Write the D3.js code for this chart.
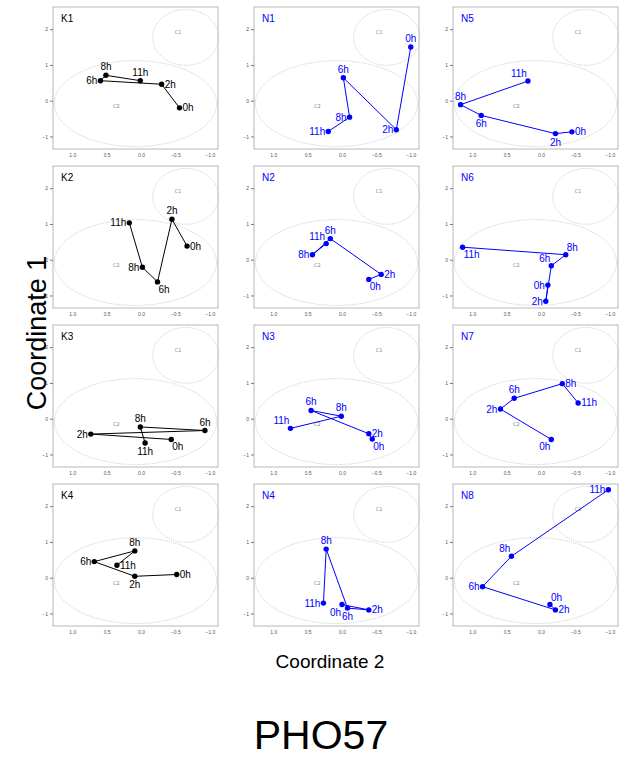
<!DOCTYPE html>
<html>
<head>
<meta charset="utf-8">
<script src="https://cdn.jsdelivr.net/npm/d3@7"></script>
<style>
  body { margin: 0; background: #fff; }
  svg { display: block; font-family: "Liberation Sans", Arial, sans-serif; }
</style>
</head>
<body>
<svg id="chart"></svg>
<script>
// Trajectories of 12 samples over time, in a 2D MDS space (PHO57).
var times = ["0h", "2h", "6h", "8h", "11h"];

// panels listed column by column: K1-K4, N1-N4, N5-N8
var panelNames = ["K1", "K2", "K3", "K4", "N1", "N2", "N3", "N4", "N5", "N6", "N7", "N8"];

var coord2 = [
    [-0.56, -0.30, 0.59, 0.51, 0.01],
    [-0.67, -0.45, -0.24, -0.02, 0.17],
    [-0.44, 0.73, -0.93, 0.01, -0.06],
    [-0.52, 0.09, 0.68, 0.09, 0.35],
    [-1.00, -0.79, -0.02, -0.11, 0.20],
    [-0.39, -0.57, 0.17, 0.43, 0.23],
    [-0.44, -0.39, 0.45, 0.01, 0.75],
    [0.00, -0.39, -0.08, 0.23, 0.27],
    [-0.45, -0.21, 0.87, 1.17, 0.19],
    [-0.10, -0.07, -0.15, -0.36, 1.14],
    [-0.15, 0.59, 0.39, -0.31, -0.54],
    [-0.13, -0.21, 0.85, 0.43, -0.98]
];

var coord1 = [
    [-0.20, 0.46, 0.56, 0.71, 0.56],
    [0.38, 1.13, -0.62, -0.21, 1.03],
    [-0.58, -0.43, -0.33, -0.23, -0.68],
    [0.09, 0.04, 0.45, 0.75, 0.35],
    [1.50, -0.81, 0.64, -0.46, -0.86],
    [-0.55, -0.41, 0.59, 0.14, 0.45],
    [-0.57, -0.42, 0.23, 0.07, -0.27],
    [-0.75, -0.90, -0.85, 0.80, -0.71],
    [-0.87, -0.92, -0.41, -0.11, 0.55],
    [-0.71, -1.16, -0.17, 0.14, 0.35],
    [-0.58, 0.27, 0.57, 0.98, 0.44],
    [-0.75, -0.90, -0.25, 0.60, 2.46]
];

// which side of the point each time label sits on (a=above, b=below, l=left, r=right)
var labelSides = [
    ["r", "r", "l", "a", "a"],
    ["r", "a", "br", "l", "l"],
    ["br", "l", "a", "a", "b"],
    ["r", "b", "l", "a", "r"],
    ["a", "l", "a", "l", "l"],
    ["br", "r", "a", "l", "al"],
    ["br", "r", "a", "a", "al"],
    ["bl", "r", "b", "a", "l"],
    ["r", "b", "b", "a", "al"],
    ["l", "l", "al", "ar", "br"],
    ["bl", "l", "a", "r", "r"],
    ["ar", "r", "l", "al", "l"]
];

// cluster ellipses: name, centre x, centre y, radius x, radius y
var clusterNames = ["C1", "C2"];
var clusterCx = [-0.65, 0.08];
var clusterCy = [1.77, -0.08];
var clusterRx = [0.48, 1.18];
var clusterRy = [0.78, 1.20];
var clusterLabelX = [-0.54, 0.36];
var clusterLabelY = [1.87, -0.21];

var xTicks = [1.0, 0.5, 0.0, -0.5, -1.0];
var yTicks = [2, 1, 0, -1];

var W = 621, H = 758;
var colLeft = [53, 254, 453];
var rowTop = [7, 166, 325, 484];
var pw = 165, ph = 142;

var svg = d3.select("#chart").attr("width", W).attr("height", H);

var x = d3.scaleLinear().domain([1.28, -1.12]).range([0, pw]);
var y = d3.scaleLinear().domain([-1.35, 2.62]).range([ph, 0]);

function labelPos(side, px, py) {
    var o = { x: px, y: py + 3.5, anchor: "middle" };
    if (side.indexOf("l") >= 0) { o.x = px - 3; o.anchor = "end"; }
    if (side.indexOf("r") >= 0) { o.x = px + 3; o.anchor = "start"; }
    if (side === "a") { o.y = py - 5; }
    if (side === "b") { o.y = py + 12; }
    if (side === "al" || side === "ar") { o.y = py - 4; o.x += side === "al" ? 2 : -2; }
    if (side === "bl" || side === "br") { o.y = py + 11; o.x += side === "bl" ? 2 : -2; }
    return o;
}

panelNames.forEach(function (name, i) {
    var col = Math.floor(i / 4), row = i % 4;
    var colour = name.charAt(0) === "K" ? "#000000" : "#0000ff";
    var g = svg.append("g")
        .attr("transform", "translate(" + colLeft[col] + "," + rowTop[row] + ")");

    g.append("rect")
        .attr("width", pw).attr("height", ph)
        .attr("fill", "#fff")
        .attr("stroke", "#b8b8b8").attr("stroke-width", 1);

    var ya = g.append("g")
        .call(d3.axisLeft(y).tickValues(yTicks).tickSize(3).tickPadding(2)
            .tickFormat(d3.format("d")));
    var xa = g.append("g")
        .attr("transform", "translate(0," + ph + ")")
        .call(d3.axisBottom(x).tickValues(xTicks).tickSize(0).tickPadding(4)
            .tickFormat(d3.format(".1f")));
    [ya, xa].forEach(function (a) {
        a.select(".domain").remove();
        a.selectAll("line").attr("stroke", "#777");
        a.selectAll("text").attr("fill", "#555").style("font-size", "5px")
            .style("font-family", "'Liberation Sans', Arial, sans-serif");
    });

    clusterNames.forEach(function (c, k) {
        g.append("ellipse")
            .attr("cx", x(clusterCx[k])).attr("cy", y(clusterCy[k]))
            .attr("rx", x(0) - x(clusterRx[k])).attr("ry", y(0) - y(clusterRy[k]))
            .attr("fill", "none")
            .attr("stroke", "#c4c4c4").attr("stroke-width", 0.8)
            .attr("stroke-dasharray", "1.2,1");
        g.append("text")
            .attr("x", x(clusterLabelX[k])).attr("y", y(clusterLabelY[k]))
            .attr("text-anchor", "middle")
            .attr("fill", "#888").style("font-size", "5px")
            .style("font-family", "'DejaVu Sans', sans-serif")
            .text(c);
    });

    var pts = times.map(function (t, j) {
        return { t: t, px: x(coord2[i][j]), py: y(coord1[i][j]), side: labelSides[i][j] };
    });

    g.append("path")
        .datum(pts)
        .attr("fill", "none")
        .attr("stroke", colour).attr("stroke-width", 1)
        .attr("d", d3.line().x(function (d) { return d.px; }).y(function (d) { return d.py; }));

    g.selectAll("circle.pt")
        .data(pts)
        .join("circle")
        .attr("class", "pt")
        .attr("cx", function (d) { return d.px; })
        .attr("cy", function (d) { return d.py; })
        .attr("r", 2.7)
        .attr("fill", colour);

    g.selectAll("text.lab")
        .data(pts)
        .join("text")
        .attr("class", "lab")
        .each(function (d) {
            var p = labelPos(d.side, d.px, d.py);
            d3.select(this).attr("x", p.x).attr("y", p.y).attr("text-anchor", p.anchor);
        })
        .attr("fill", colour)
        .style("font-size", "10px")
        .text(function (d) { return d.t; });

    g.append("text")
        .attr("x", 8).attr("y", 15)
        .attr("fill", colour)
        .style("font-size", "10px")
        .text(name);
});

svg.append("text")
    .attr("transform", "translate(46,333) rotate(-90)")
    .attr("text-anchor", "middle")
    .style("font-size", "27px")
    .text("Coordinate 1");

svg.append("text")
    .attr("x", 330).attr("y", 668)
    .attr("text-anchor", "middle")
    .style("font-size", "19px")
    .text("Coordinate 2");

svg.append("text")
    .attr("x", 321).attr("y", 749)
    .attr("text-anchor", "middle")
    .style("font-size", "41px")
    .text("PHO57");
</script>
</body>
</html>
